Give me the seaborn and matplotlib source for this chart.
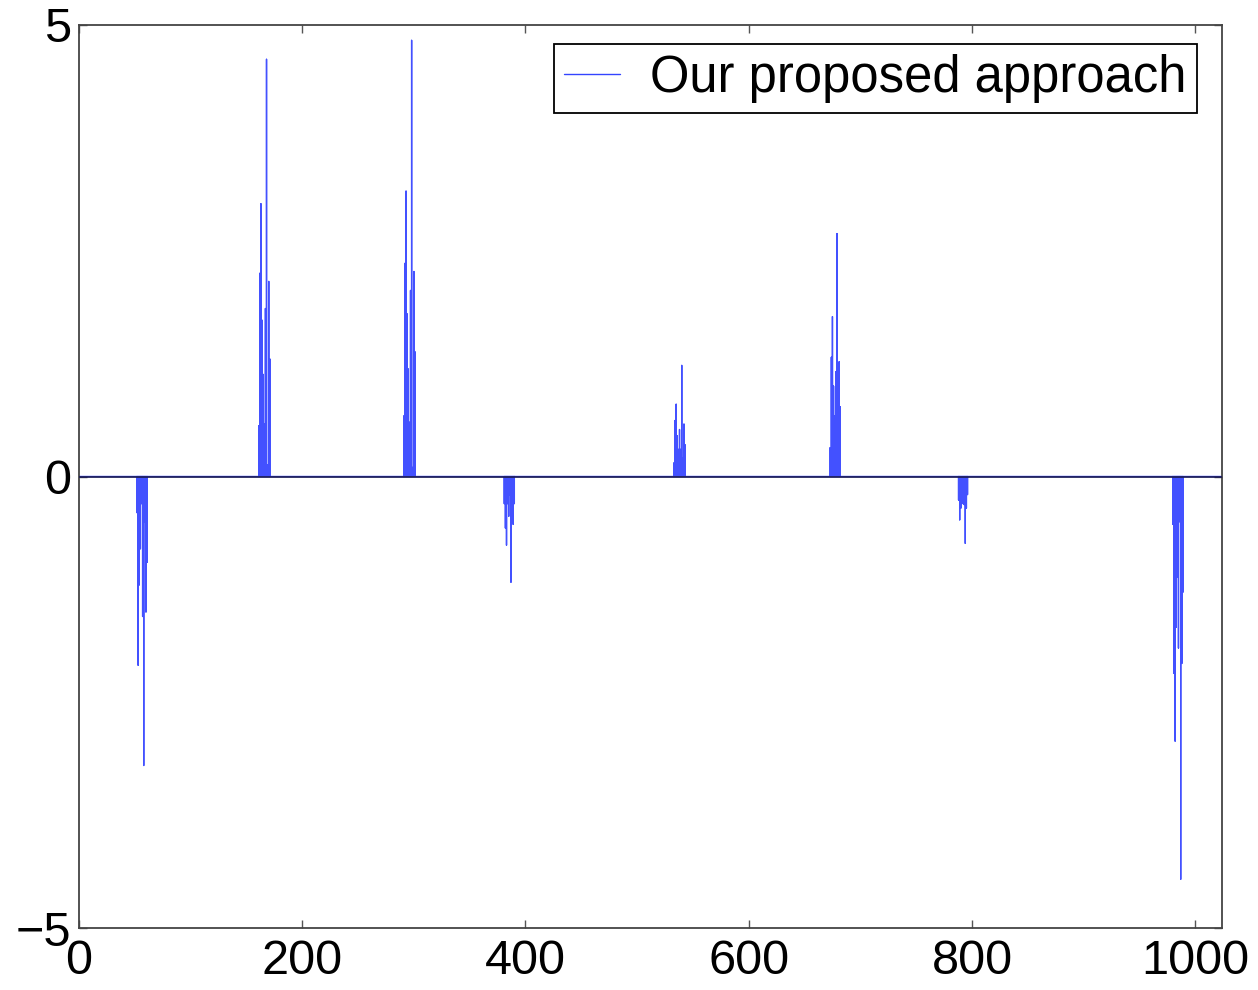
import numpy as np
import pandas as pd
import matplotlib
matplotlib.use("Agg")
import matplotlib.pyplot as plt
import seaborn as sns

# Sparse signal of length 1024: each burst has a start index and its sample values
n_samples = 1024
burst_starts = [52, 161, 291, 381, 533, 673, 788, 980]
burst_values = [
    [-0.40, -2.09, -1.20, -0.80, -0.30, -1.55, -3.20, -0.50, -1.50, -0.95],
    [0.56, 2.25, 3.02, 1.73, 1.13, 0.58, 1.86, 4.62, 0.13, 2.16, 1.30],
    [0.67, 2.36, 3.16, 1.80, 1.19, 0.60, 2.06, 4.83, 0.10, 2.27, 1.38],
    [-0.30, -0.57, -0.76, -0.30, -0.44, -0.20, -1.17, -0.50, -0.53, -0.30],
    [0.15, 0.62, 0.80, 0.45, 0.30, 0.52, 0.30, 1.23, 0.20, 0.58, 0.35],
    [0.32, 1.32, 1.77, 1.00, 0.67, 1.16, 2.69, 0.30, 1.27, 0.77],
    [-0.26, -0.48, -0.35, -0.20, -0.30, -0.31, -0.74, -0.35, -0.20],
    [-0.53, -2.18, -2.93, -1.67, -1.11, -1.90, -0.50, -4.46, -2.07, -1.28],
]
series_label = "Our proposed approach"
x_ticks = [0, 200, 400, 600, 800, 1000]
y_ticks = [-5, 0, 5]

signal = np.zeros(n_samples)
for start, vals in zip(burst_starts, burst_values):
    signal[start:start + len(vals)] = vals

# Trace each sample as a stem: baseline -> value -> baseline at the same index
idx = np.arange(n_samples)
xs = np.repeat(idx, 3)
ys = np.column_stack([np.zeros(n_samples), signal, np.zeros(n_samples)]).ravel()
df = pd.DataFrame({"index": xs, "value": ys, "order": np.arange(xs.size)})

sns.set_style("white")
plt.rcParams["font.family"] = ["Liberation Sans", "DejaVu Sans"]
plt.rcParams["text.color"] = "black"
plt.rcParams["axes.linewidth"] = 1.3

fig = plt.figure(figsize=(12.58, 9.9), dpi=100)
ax = fig.add_axes([79 / 1258, 1 - 928 / 990, (1222 - 79) / 1258, (928 - 25) / 990])

sns.lineplot(data=df, x="index", y="value", ax=ax, color="#2233ff", lw=1.0,
             sort=False, estimator=None, label=series_label, zorder=2,
             alpha=0.85)
ax.axhline(0, color="#1a1a50", lw=1.2, zorder=3)

ax.set_xlim(0, 1024)
ax.set_ylim(-5, 5)
ax.set_xticks(x_ticks)
ax.set_yticks(y_ticks)
ax.set_xticklabels([str(t) for t in x_ticks])
ax.set_yticklabels(["\u22125" if t == -5 else str(t) for t in y_ticks])
ax.set_xlabel("")
ax.set_ylabel("")
ax.tick_params(direction="in", length=6, width=1, colors="#555555",
               labelcolor="black", labelsize=35, top=True, right=True,
               bottom=True, left=True)
ax.tick_params(axis="x", pad=8)
ax.tick_params(axis="y", pad=6)
for sp in ax.spines.values():
    sp.set_color("#444444")
    sp.set_visible(True)

leg = ax.legend(loc="upper right", bbox_to_anchor=(0.978, 0.979),
                fontsize=36.5, frameon=True, fancybox=False,
                borderpad=0.2, handlelength=1.1, handletextpad=0.6,
                borderaxespad=0.0, labelcolor="black")
leg.get_frame().set_edgecolor("black")
leg.get_frame().set_linewidth(1.3)
leg.get_frame().set_alpha(1)
for h in leg.get_lines():
    h.set_alpha(1)
    h.set_color("#3344ff")

fig.savefig("out.png", dpi=100, facecolor="white")
